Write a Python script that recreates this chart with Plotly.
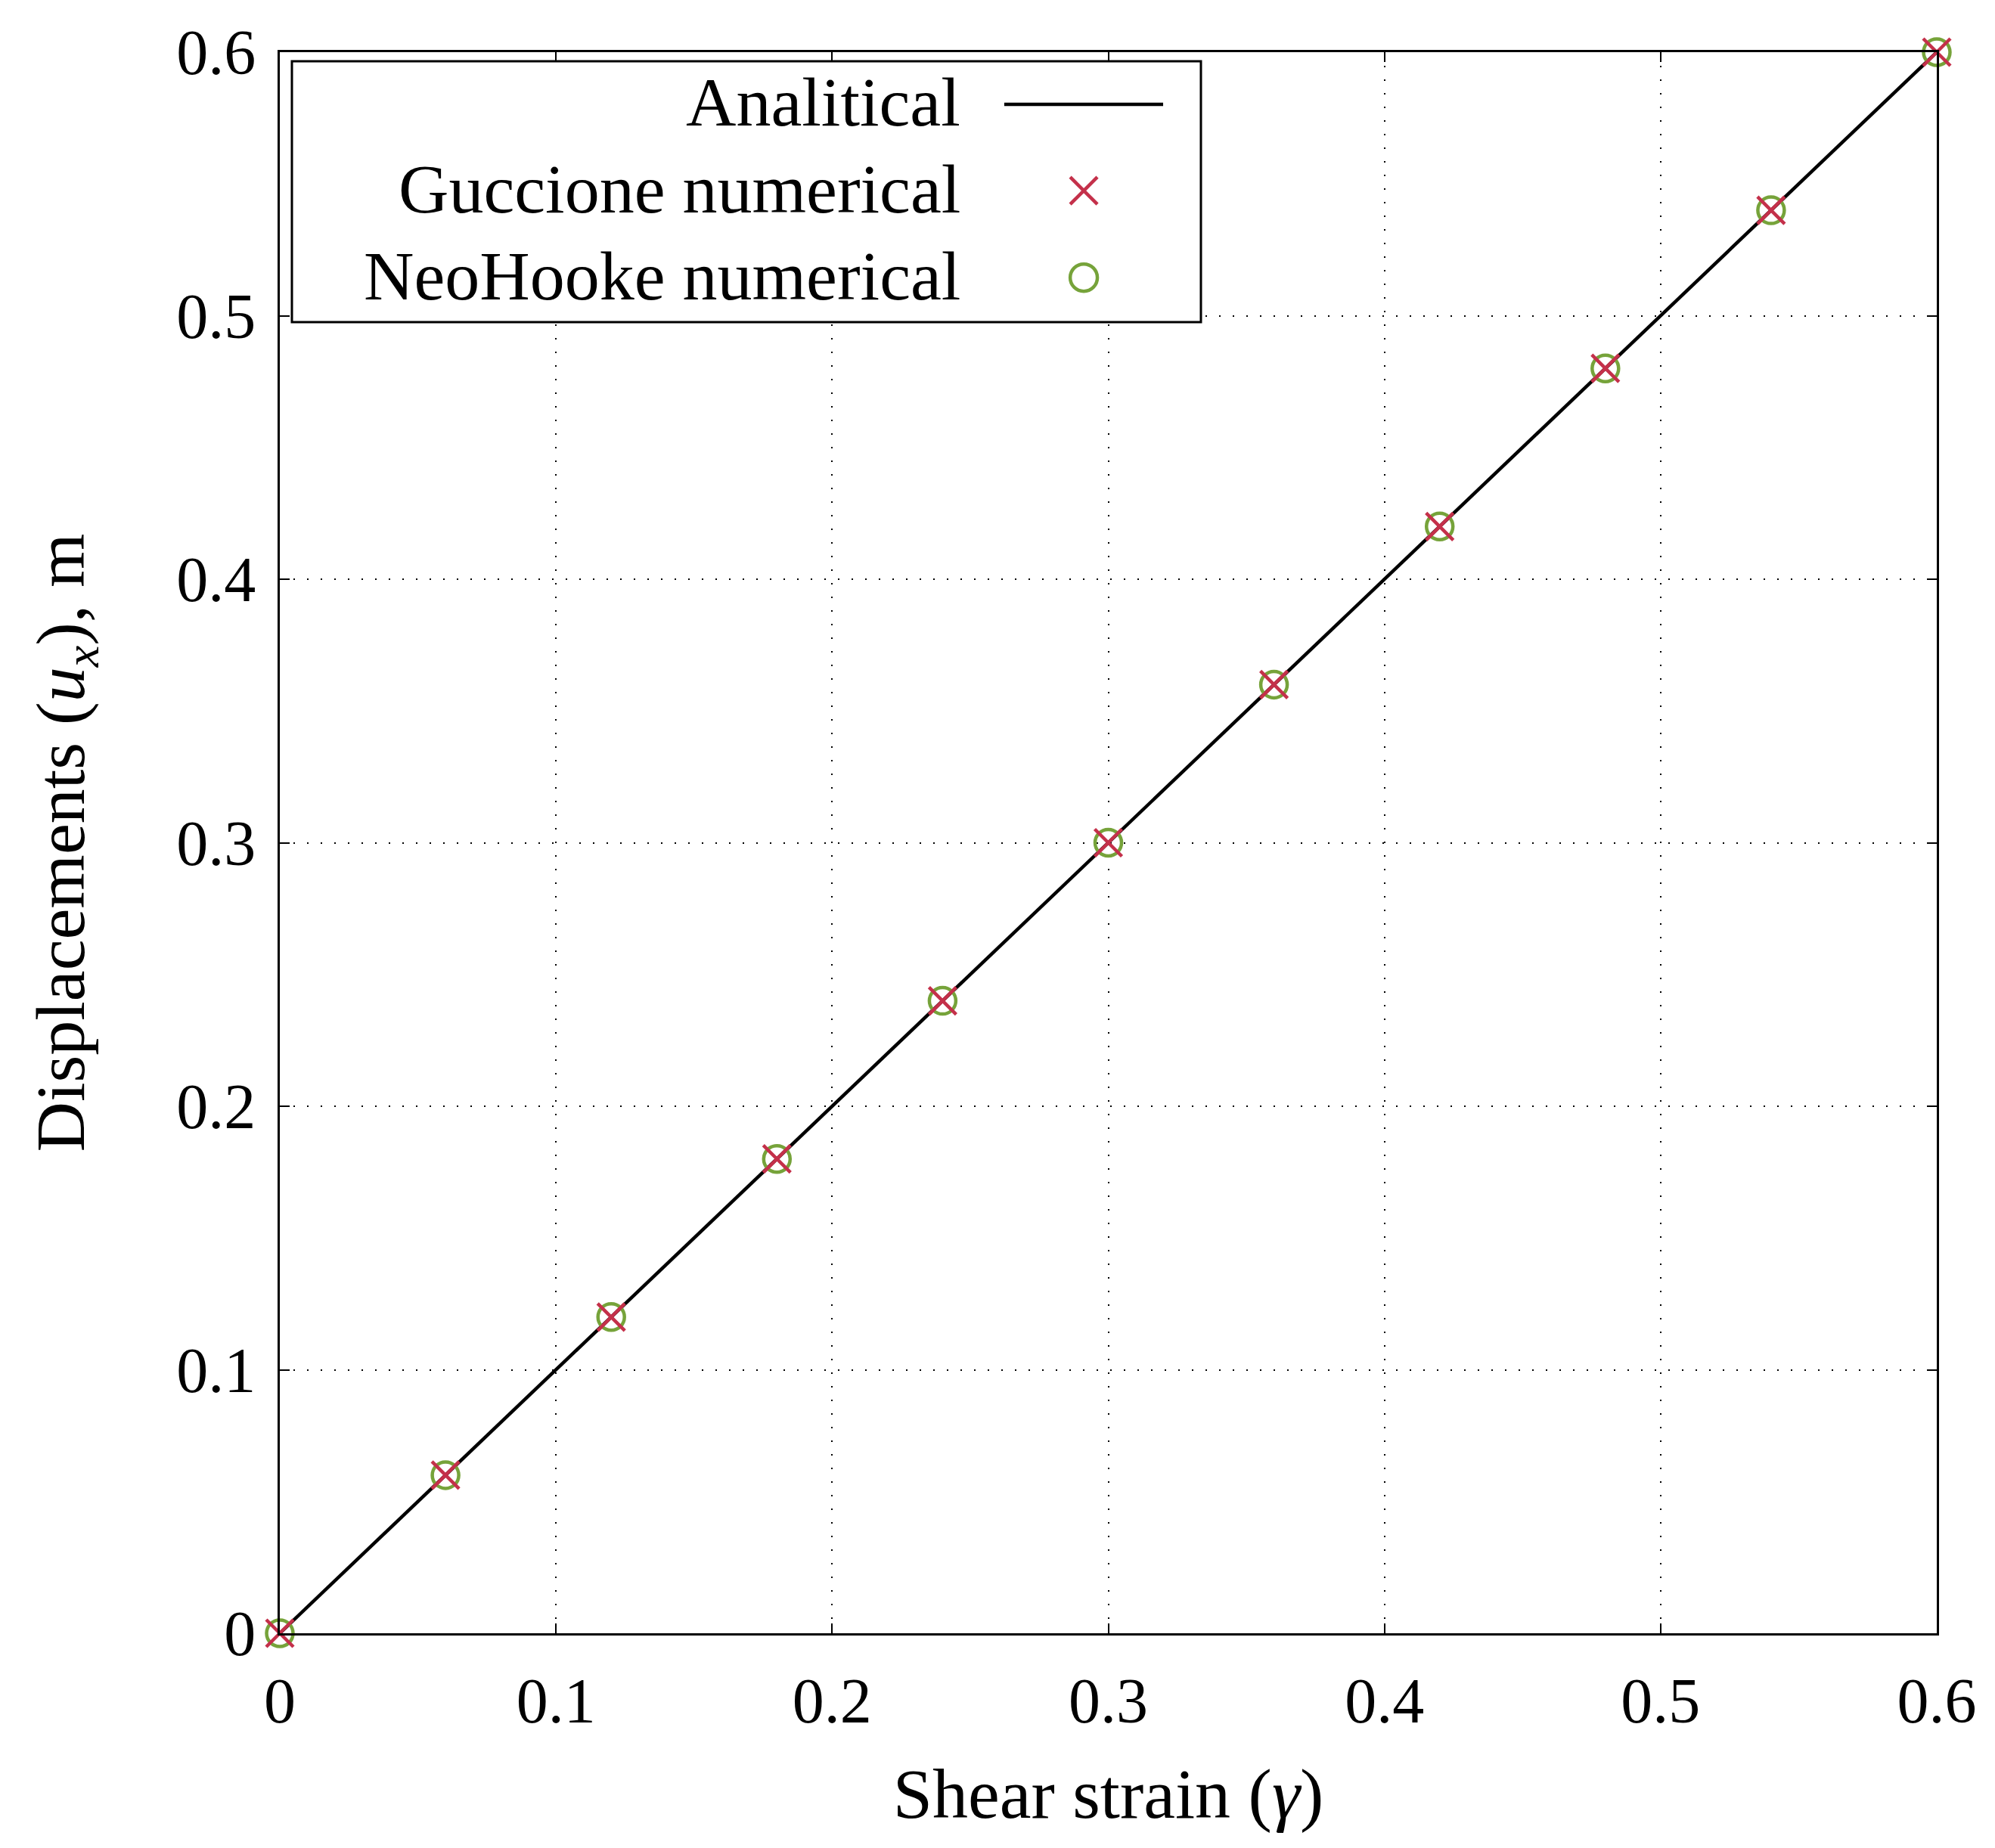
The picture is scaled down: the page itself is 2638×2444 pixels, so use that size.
import plotly.graph_objects as go

# shear strain (gamma) and x-displacement values
strain = [0.0, 0.06, 0.12, 0.18, 0.24, 0.30, 0.36, 0.42, 0.48, 0.54, 0.60]
guccione_ux = [0.0, 0.06, 0.12, 0.18, 0.24, 0.30, 0.36, 0.42, 0.48, 0.54, 0.60]
neohooke_ux = [0.0, 0.06, 0.12, 0.18, 0.24, 0.30, 0.36, 0.42, 0.48, 0.54, 0.60]
analytical_x = [0.0, 0.6]
analytical_ux = [0.0, 0.6]
tick_vals = [0, 0.1, 0.2, 0.3, 0.4, 0.5, 0.6]
legend_names = ['Analitical', 'Guccione numerical', 'NeoHooke numerical']

FONT = 'Liberation Serif'
RED = '#C4304A'
GREEN = '#76A33A'

fig = go.Figure()

fig.add_trace(go.Scatter(
    x=analytical_x, y=analytical_ux, mode='lines', name=legend_names[0],
    line=dict(color='black', width=4.5)
))

# circles first so the crosses sit on top, as in the original
fig.add_trace(go.Scatter(
    x=strain, y=neohooke_ux, mode='markers', name=legend_names[2],
    marker=dict(symbol='circle-open', size=35, color=GREEN,
                line=dict(color=GREEN, width=4.5)),
    cliponaxis=False
))

fig.add_trace(go.Scatter(
    x=strain, y=guccione_ux, mode='markers', name=legend_names[1],
    marker=dict(symbol='x-thin-open', size=36, color=RED,
                line=dict(color=RED, width=4.5)),
    cliponaxis=False
))

axis_common = dict(
    range=[0, 0.6],
    tickvals=tick_vals,
    ticks='inside', ticklen=13, tickwidth=2, tickcolor='black',
    showline=True, linecolor='black', linewidth=3, mirror='ticks',
    showgrid=True, gridcolor='black', gridwidth=2, griddash='2px,16px',
    zeroline=False,
    tickfont=dict(family=FONT, size=84, color='black'),
)

fig.update_xaxes(
    **axis_common,
    ticklabelstandoff=14,
    title=dict(text='Shear strain (<i>γ</i>)', standoff=44,
               font=dict(family=FONT, size=94, color='black')),
)
fig.update_yaxes(
    **axis_common,
    ticklabelstandoff=12,
    title=dict(text='Displacements (<i>u</i><sub><i>x</i></sub>), m', standoff=92,
               font=dict(family=FONT, size=92, color='black')),
)

# gnuplot-style key: text right-aligned, sample on the right
box = dict(x0=0.0073, x1=0.5559, y0=0.8293, y1=0.9943)
text_x = 0.4117
row_y = [0.9684, 0.9134, 0.8584]
samp_x = 0.4852
dx, dy = 0.0082, 0.0086

shapes = [
    dict(type='rect', xref='paper', yref='paper', **box,
         line=dict(color='black', width=3), fillcolor='white', layer='above'),
    dict(type='line', xref='paper', yref='paper', x0=0.4372, x1=0.5331,
         y0=row_y[0] - 0.0014, y1=row_y[0] - 0.0014,
         line=dict(color='black', width=4.5), layer='above'),
    dict(type='line', xref='paper', yref='paper', x0=samp_x - dx, x1=samp_x + dx,
         y0=row_y[1] - 0.001 - dy, y1=row_y[1] - 0.001 + dy,
         line=dict(color=RED, width=4.5), layer='above'),
    dict(type='line', xref='paper', yref='paper', x0=samp_x - dx, x1=samp_x + dx,
         y0=row_y[1] - 0.001 + dy, y1=row_y[1] - 0.001 - dy,
         line=dict(color=RED, width=4.5), layer='above'),
    dict(type='circle', xref='paper', yref='paper', x0=samp_x - dx, x1=samp_x + dx,
         y0=row_y[2] - 0.001 - dy, y1=row_y[2] - 0.001 + dy,
         line=dict(color=GREEN, width=4.5), layer='above'),
]

annotations = [
    dict(text=name, xref='paper', yref='paper', x=text_x, y=yy,
         xanchor='right', yanchor='middle', showarrow=False,
         font=dict(family=FONT, size=92, color='black'))
    for name, yy in zip(legend_names, row_y)
]

# the page body adds an 8px margin, so the figure is 8px smaller each way
fig.update_layout(
    width=2630, height=2436,
    margin=dict(l=362, r=77, t=61, b=284),
    paper_bgcolor='white', plot_bgcolor='white',
    font=dict(family=FONT, size=84, color='black'),
    showlegend=False,
    shapes=shapes,
    annotations=annotations,
)

fig.write_html("out.html")
